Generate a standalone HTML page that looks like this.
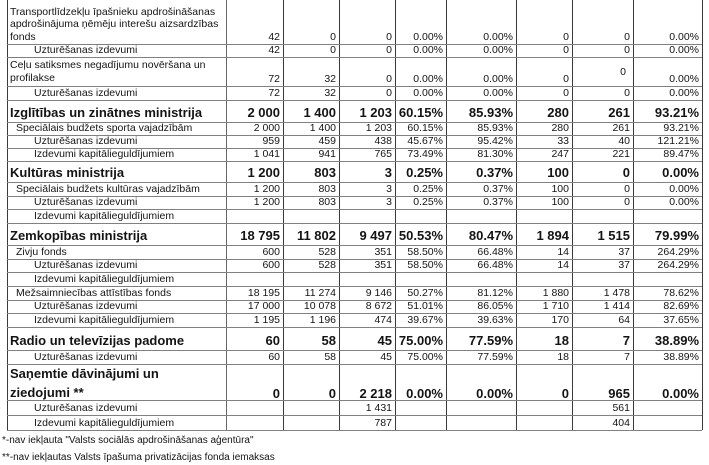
<!DOCTYPE html>
<html><head><meta charset="utf-8">
<style>
*{box-sizing:border-box}
body{margin:0;width:709px;height:465px;background:#fff;position:relative;overflow:hidden;font-family:"Liberation Sans",Arial,sans-serif;color:#141414}
.v{position:absolute;top:0;width:1px;height:430px;background:#3a3a3a}
.h{position:absolute;left:7px;width:695px;height:1px;background:#808080}
.r{position:absolute;left:7px;width:695px;display:grid;grid-template-columns:219px 57px 56px 56px 51px 70px 56px 61px 69px}
.r>div{display:flex;align-items:flex-end;justify-content:flex-end;padding-right:3px;font-size:10.5px;line-height:12px;padding-bottom:1px;white-space:nowrap}
.r>div:first-child{justify-content:flex-start;padding-left:3px}
.r.i1>div:first-child{padding-left:9px}
.r.i2>div:first-child{padding-left:27px}
.b>div{font-size:13px;font-weight:bold;line-height:16px;padding-bottom:1px}
.f{position:absolute;left:2px;font-size:10px;line-height:12px;white-space:nowrap}
</style></head><body>

<div class="v" style="left:7px"></div>
<div class="v" style="left:226px;background:#666"></div>
<div class="v" style="left:283px"></div>
<div class="v" style="left:339px"></div>
<div class="v" style="left:395px"></div>
<div class="v" style="left:446px"></div>
<div class="v" style="left:516px"></div>
<div class="v" style="left:572px"></div>
<div class="v" style="left:633px"></div>
<div class="v" style="left:702px"></div>

<div class="h" style="top:44px"></div>
<div class="h" style="top:57px"></div>
<div class="h" style="top:86px"></div>
<div class="h" style="top:100px"></div>
<div class="h" style="top:122px"></div>
<div class="h" style="top:135px"></div>
<div class="h" style="top:148px"></div>
<div class="h" style="top:161px"></div>
<div class="h" style="top:182px"></div>
<div class="h" style="top:196px"></div>
<div class="h" style="top:209px"></div>
<div class="h" style="top:223px"></div>
<div class="h" style="top:245px"></div>
<div class="h" style="top:259px"></div>
<div class="h" style="top:272px"></div>
<div class="h" style="top:286px"></div>
<div class="h" style="top:300px"></div>
<div class="h" style="top:313px"></div>
<div class="h" style="top:327px"></div>
<div class="h" style="top:350px"></div>
<div class="h" style="top:364px"></div>
<div class="h" style="top:400px"></div>
<div class="h" style="top:415px"></div>
<div class="h" style="top:430px"></div>

<div class="r" style="top:0;height:44px"><div style="line-height:12.5px"><span>Transportlīdzekļu īpašnieku apdrošināšanas<br>apdrošinājuma ņēmēju interešu aizsardzības<br>fonds</span></div><div>42</div><div>0</div><div>0</div><div>0.00%</div><div>0.00%</div><div>0</div><div>0</div><div>0.00%</div></div>
<div class="r i2" style="top:44px;height:13px"><div>Uzturēšanas izdevumi</div><div>42</div><div>0</div><div>0</div><div>0.00%</div><div>0.00%</div><div>0</div><div>0</div><div>0.00%</div></div>
<div class="r" style="top:57px;height:29px"><div style="line-height:13px"><span>Ceļu satiksmes negadījumu novēršana un<br>profilakse</span></div><div>72</div><div>32</div><div>0</div><div>0.00%</div><div>0.00%</div><div>0</div><div style="padding-bottom:8px;padding-right:7px">0</div><div>0.00%</div></div>
<div class="r i2" style="top:86px;height:14px"><div>Uzturēšanas izdevumi</div><div>72</div><div>32</div><div>0</div><div>0.00%</div><div>0.00%</div><div>0</div><div>0</div><div>0.00%</div></div>

<div class="r b" style="top:100px;height:22px"><div>Izglītības un zinātnes ministrija</div><div>2 000</div><div>1 400</div><div>1 203</div><div>60.15%</div><div>85.93%</div><div>280</div><div>261</div><div>93.21%</div></div>
<div class="r i1" style="top:122px;height:13px"><div>Speciālais budžets sporta vajadzībām</div><div>2 000</div><div>1 400</div><div>1 203</div><div>60.15%</div><div>85.93%</div><div>280</div><div>261</div><div>93.21%</div></div>
<div class="r i2" style="top:135px;height:13px"><div>Uzturēšanas izdevumi</div><div>959</div><div>459</div><div>438</div><div>45.67%</div><div>95.42%</div><div>33</div><div>40</div><div>121.21%</div></div>
<div class="r i2" style="top:148px;height:13px"><div>Izdevumi kapitālieguldījumiem</div><div>1 041</div><div>941</div><div>765</div><div>73.49%</div><div>81.30%</div><div>247</div><div>221</div><div>89.47%</div></div>

<div class="r b" style="top:161px;height:21px"><div>Kultūras ministrija</div><div>1 200</div><div>803</div><div>3</div><div>0.25%</div><div>0.37%</div><div>100</div><div>0</div><div>0.00%</div></div>
<div class="r i1" style="top:182px;height:14px"><div>Speciālais budžets kultūras vajadzībām</div><div>1 200</div><div>803</div><div>3</div><div>0.25%</div><div>0.37%</div><div>100</div><div>0</div><div>0.00%</div></div>
<div class="r i2" style="top:196px;height:13px"><div>Uzturēšanas izdevumi</div><div>1 200</div><div>803</div><div>3</div><div>0.25%</div><div>0.37%</div><div>100</div><div>0</div><div>0.00%</div></div>
<div class="r i2" style="top:209px;height:14px"><div>Izdevumi kapitālieguldījumiem</div><div></div><div></div><div></div><div></div><div></div><div></div><div></div><div></div></div>

<div class="r b" style="top:223px;height:22px"><div>Zemkopības ministrija</div><div>18 795</div><div>11 802</div><div>9 497</div><div>50.53%</div><div>80.47%</div><div>1 894</div><div>1 515</div><div>79.99%</div></div>
<div class="r i1" style="top:245px;height:14px"><div>Zivju fonds</div><div>600</div><div>528</div><div>351</div><div>58.50%</div><div>66.48%</div><div>14</div><div>37</div><div>264.29%</div></div>
<div class="r i2" style="top:259px;height:13px"><div>Uzturēšanas izdevumi</div><div>600</div><div>528</div><div>351</div><div>58.50%</div><div>66.48%</div><div>14</div><div>37</div><div>264.29%</div></div>
<div class="r i2" style="top:272px;height:14px"><div>Izdevumi kapitālieguldījumiem</div><div></div><div></div><div></div><div></div><div></div><div></div><div></div><div></div></div>
<div class="r i1" style="top:286px;height:14px"><div>Mežsaimniecības attīstības fonds</div><div>18 195</div><div>11 274</div><div>9 146</div><div>50.27%</div><div>81.12%</div><div>1 880</div><div>1 478</div><div>78.62%</div></div>
<div class="r i2" style="top:300px;height:13px"><div>Uzturēšanas izdevumi</div><div>17 000</div><div>10 078</div><div>8 672</div><div>51.01%</div><div>86.05%</div><div>1 710</div><div>1 414</div><div>82.69%</div></div>
<div class="r i2" style="top:313px;height:14px"><div>Izdevumi kapitālieguldījumiem</div><div>1 195</div><div>1 196</div><div>474</div><div>39.67%</div><div>39.63%</div><div>170</div><div>64</div><div>37.65%</div></div>

<div class="r b" style="top:327px;height:23px"><div>Radio un televīzijas padome</div><div>60</div><div>58</div><div>45</div><div>75.00%</div><div>77.59%</div><div>18</div><div>7</div><div>38.89%</div></div>
<div class="r i2" style="top:350px;height:14px"><div>Uzturēšanas izdevumi</div><div>60</div><div>58</div><div>45</div><div>75.00%</div><div>77.59%</div><div>18</div><div>7</div><div>38.89%</div></div>

<div class="r b" style="top:364px;height:36px"><div style="line-height:19px"><span>Saņemtie dāvinājumi un<br>ziedojumi **</span></div><div>0</div><div>0</div><div>2 218</div><div>0.00%</div><div>0.00%</div><div>0</div><div>965</div><div>0.00%</div></div>
<div class="r i2" style="top:400px;height:15px"><div>Uzturēšanas izdevumi</div><div></div><div></div><div>1 431</div><div></div><div></div><div></div><div>561</div><div></div></div>
<div class="r i2" style="top:415px;height:15px"><div>Izdevumi kapitālieguldījumiem</div><div></div><div></div><div>787</div><div></div><div></div><div></div><div>404</div><div></div></div>

<div class="f" style="top:435px">*-nav iekļauta "Valsts sociālās apdrošināšanas aģentūra"</div>
<div class="f" style="top:452px">**-nav iekļautas Valsts īpašuma privatizācijas fonda iemaksas</div>

</body></html>
